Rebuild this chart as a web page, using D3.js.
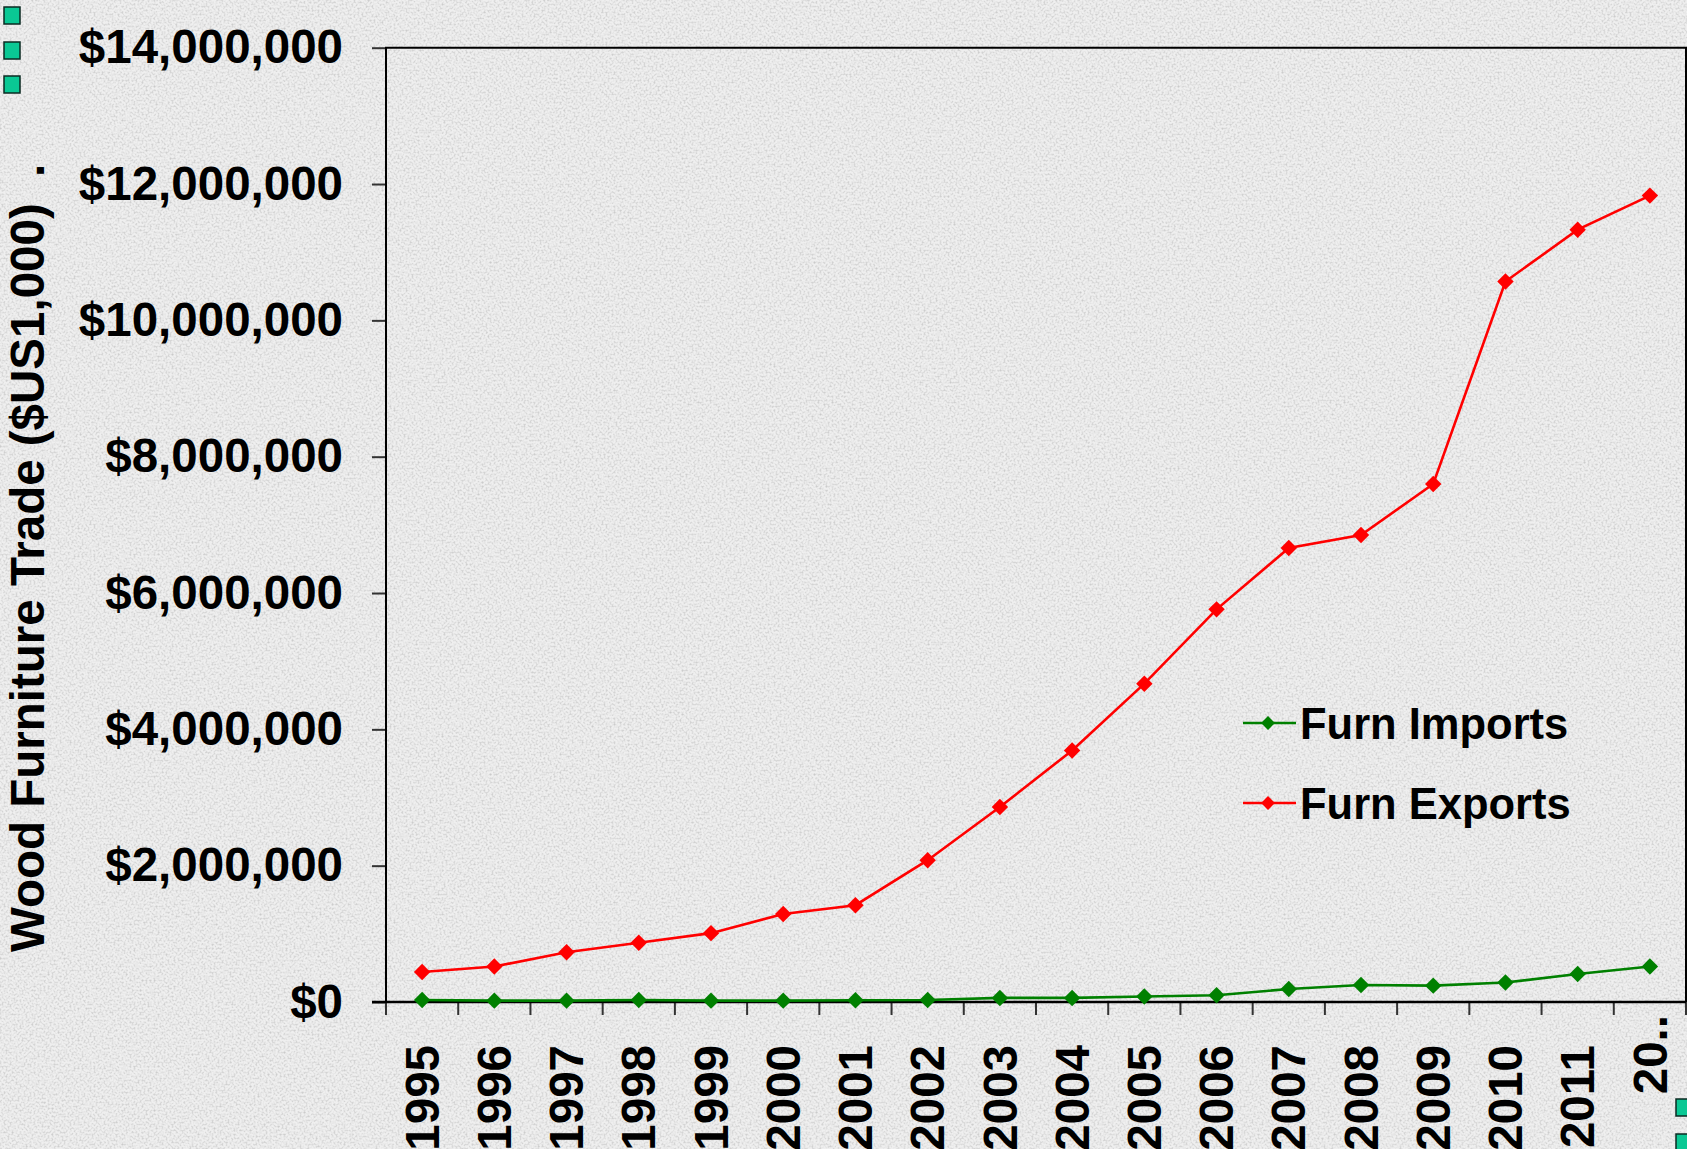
<!DOCTYPE html>
<html>
<head>
<meta charset="utf-8">
<script src="https://cdn.jsdelivr.net/npm/d3@7"></script>
<style>
  html, body { margin: 0; padding: 0; background: #ebebeb; }
  svg { display: block; font-family: "Liberation Sans", Arial, sans-serif; font-weight: bold; }
</style>
</head>
<body>
<div id="chart"></div>
<script>
// data (values in $US1,000)
const years = ["1995", "1996", "1997", "1998", "1999", "2000", "2001", "2002", "2003",
    "2004", "2005", "2006", "2007", "2008", "2009", "2010", "2011", "2012"];
const yearLabels = ["1995", "1996", "1997", "1998", "1999", "2000", "2001", "2002", "2003",
    "2004", "2005", "2006", "2007", "2008", "2009", "2010", "2011", "20.."];
const furnImports = [30000, 20000, 20000, 30000, 20000, 20000, 25000, 30000, 60000,
    60000, 80000, 100000, 190000, 250000, 240000, 285000, 410000, 520000];
const furnExports = [440000, 520000, 730000, 870000, 1010000, 1290000, 1420000, 2080000, 2860000,
    3690000, 4670000, 5760000, 6660000, 6850000, 7600000, 10570000, 11330000, 11830000];
const yTicks = [0, 2000000, 4000000, 6000000, 8000000, 10000000, 12000000, 14000000];

const series = [
    { name: "Furn Imports", values: furnImports, color: "#008000" },
    { name: "Furn Exports", values: furnExports, color: "#ff0000" }
];

const width = 1687, height = 1149;
const plot = { left: 386, top: 47.7, right: 1686, bottom: 1002 };

const svg = d3.select("#chart").append("svg")
    .attr("width", width)
    .attr("height", height);

// granite-ish background
const defs = svg.append("defs");
const filt = defs.append("filter").attr("id", "granite")
    .attr("x", 0).attr("y", 0).attr("width", "100%").attr("height", "100%");
filt.append("feTurbulence")
    .attr("type", "fractalNoise")
    .attr("baseFrequency", 0.5)
    .attr("numOctaves", 3)
    .attr("seed", 7);
filt.append("feColorMatrix")
    .attr("type", "matrix")
    .attr("values", "0 0 0 0 0.55  0 0 0 0 0.55  0 0 0 0 0.55  2.0 0 0 0 -0.85");

svg.append("rect").attr("width", width).attr("height", height).attr("fill", "#efefef");
svg.append("rect").attr("width", width).attr("height", height).attr("filter", "url(#granite)");

const x = d3.scaleBand()
    .domain(years)
    .range([plot.left, plot.right])
    .padding(0);

const y = d3.scaleLinear()
    .domain([0, 14000000])
    .range([plot.bottom, plot.top]);

const fmt = v => "$" + d3.format(",")(v);

// y axis
const yAxis = svg.append("g")
    .attr("transform", `translate(${plot.left},0)`)
    .call(d3.axisLeft(y).tickValues(yTicks).tickFormat(fmt).tickSize(14).tickPadding(29));
yAxis.select(".domain").remove();
yAxis.selectAll(".tick line").attr("stroke", "#333").attr("stroke-width", 2);
yAxis.selectAll(".tick text")
    .attr("fill", "#000")
    .attr("font-family", "Liberation Sans, Arial, sans-serif")
    .attr("font-weight", "bold")
    .attr("font-size", 47.5);

// x axis ticks at category boundaries
const bounds = years.map(d => x(d)).concat([plot.right]);
svg.append("g").selectAll("line")
    .data(bounds)
    .enter().append("line")
    .attr("x1", d => d).attr("x2", d => d)
    .attr("y1", plot.bottom).attr("y2", plot.bottom + 13)
    .attr("stroke", "#333")
    .attr("stroke-width", 2);

// x labels, rotated (bottom digits run off the slide, as in the original)
svg.append("g").selectAll("text")
    .data(years)
    .enter().append("text")
    .attr("transform", (d, i) => {
        const top = i === years.length - 1 ? 1015 : 1045;
        return `translate(${x(d) + x.bandwidth() / 2},${top}) rotate(-90)`;
    })
    .attr("text-anchor", "end")
    .attr("dy", "0.35em")
    .attr("font-size", 47.5)
    .attr("fill", "#000")
    .text((d, i) => yearLabels[i]);

// plot frame
svg.append("path")
    .attr("d", `M${plot.left},${plot.bottom}V${plot.top}H${plot.right}V${plot.bottom}`)
    .attr("fill", "none")
    .attr("stroke", "#000")
    .attr("stroke-width", 2);
svg.append("line")
    .attr("x1", plot.left - 14).attr("x2", plot.right)
    .attr("y1", plot.bottom).attr("y2", plot.bottom)
    .attr("stroke", "#000")
    .attr("stroke-width", 2.5);

// lines + diamond markers
const line = d3.line()
    .x((d, i) => x(years[i]) + x.bandwidth() / 2)
    .y(d => y(d));
const diamond = d3.symbol().type(d3.symbolSquare).size(135);

series.forEach(s => {
    svg.append("path")
        .datum(s.values)
        .attr("d", line)
        .attr("fill", "none")
        .attr("stroke", s.color)
        .attr("stroke-width", 2.6);
    svg.append("g").selectAll("path")
        .data(s.values)
        .enter().append("path")
        .attr("d", diamond)
        .attr("transform", (d, i) => `translate(${x(years[i]) + x.bandwidth() / 2},${y(d)}) rotate(45)`)
        .attr("fill", s.color);
});

// legend
const legend = svg.append("g").attr("transform", "translate(1243,723)");
const item = legend.selectAll("g")
    .data(series)
    .enter().append("g")
    .attr("transform", (d, i) => `translate(0,${i * 80})`);
item.append("line")
    .attr("x1", 0).attr("x2", 53)
    .attr("stroke", d => d.color)
    .attr("stroke-width", 2.6);
item.append("path")
    .attr("d", d3.symbol().type(d3.symbolSquare).size(95))
    .attr("transform", "translate(25,0) rotate(45)")
    .attr("fill", d => d.color);
item.append("text")
    .attr("x", 57)
    .attr("y", 16)
    .attr("font-size", 43.5)
    .attr("fill", "#000")
    .text(d => d.name);

// y axis title
svg.append("text")
    .attr("transform", "translate(44,952) rotate(-90)")
    .attr("text-anchor", "start")
    .attr("font-size", 47.5)
    .attr("fill", "#000")
    .text("Wood Furniture Trade ($US1,000)\u00a0\u00a0.");

// slide bullet squares peeking at the edges
const bullets = [[4, 7], [4, 42], [4, 76], [1676, 1099], [1676, 1134]];
svg.append("g").selectAll("rect")
    .data(bullets)
    .enter().append("rect")
    .attr("x", d => d[0]).attr("y", d => d[1])
    .attr("width", 16).attr("height", 17)
    .attr("fill", "#0ac894")
    .attr("stroke", "#0b2a22")
    .attr("stroke-width", 1.5);
</script>
</body>
</html>
